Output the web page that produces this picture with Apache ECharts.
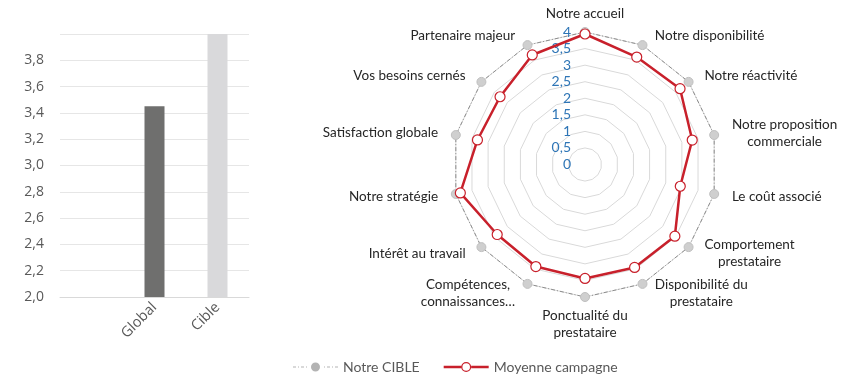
<!DOCTYPE html>
<html><head><meta charset="utf-8">
<script src="https://cdn.jsdelivr.net/npm/echarts@6/dist/echarts.min.js"></script>
<style>html,body{margin:0;padding:0;background:#fff}#c{width:842px;height:391px}</style>
</head><body><div id="c"></div>
<script>
// ---- data (clockwise from top) ----
const barCategories = ['', 'Global', 'Cible'];
const barValues = [null, 3.45, 4.0];
const barTickLabels = ['2,0','2,2','2,4','2,6','2,8','3,0','3,2','3,4','3,6','3,8','4,0'];

const radarCategories = [
  'Notre accueil', 'Notre disponibilité', 'Notre réactivité',
  'Notre proposition\ncommerciale', 'Le coût associé', 'Comportement\nprestataire',
  'Disponibilité du\nprestataire', 'Ponctualité du\nprestataire', 'Compétences,\nconnaissances…',
  'Intérêt au travail', 'Notre stratégie', 'Satisfaction globale',
  'Vos besoins cernés', 'Partenaire majeur'
];
const cibleValues = [4, 4, 4, 4, 4, 4, 4, 4, 4, 4, 4, 4, 4, 4];
const moyenneValues = [3.94, 3.6, 3.67, 3.32, 2.95, 3.47, 3.45, 3.44, 3.42, 3.39, 3.86, 3.33, 3.28, 3.67];
const radarTickLabels = ['0','0,5','1','1,5','2','2,5','3','3,5','4'];
const seriesNames = ['Notre CIBLE', 'Moyenne campagne'];

// ---- styles ----
const barColors = ['#6f6f6e', '#d9d9db'];
const RED = '#c8202b';
const FONT = 'Lato, "Open Sans", sans-serif';
const C = [585, 164.5], R = 132.5;

// ECharts radar runs counter-clockwise: reorder so it reads clockwise
const cw = arr => [arr[0]].concat(arr.slice(1).reverse());

const redIcon = 'path://M0 3.75H17.5V6.25H0Z M27.5 3.75H45V6.25H27.5Z M22.5 0A5 5 0 1 1 22.49 0Z M22.5 1.2A3.8 3.8 0 1 0 22.51 1.2Z';
const grayIcon = 'path://M0 4.5H3V5.5H0Z M5 4.5H6V5.5H5Z M8 4.5H11V5.5H8Z M13 4.5H14V5.5H13Z M22.5 0.5A4.5 4.5 0 1 1 22.49 0.5Z M31 4.5H32V5.5H31Z M34 4.5H37V5.5H34Z M39 4.5H40V5.5H39Z M42 4.5H45V5.5H42Z M0 0H0.01V10H0Z';

const chart = echarts.init(document.getElementById('c'));
chart.setOption({
  animation: false,
  textStyle: { fontFamily: FONT },
  grid: { left: 60, right: 593, top: 34, bottom: 94 },
  xAxis: {
    type: 'category', data: barCategories,
    axisLine: { lineStyle: { color: '#d9d9d9' } },
    axisTick: { show: false },
    axisLabel: { rotate: 45, color: '#595959', fontSize: 14.5, fontFamily: '"Open Sans", sans-serif', margin: 8, interval: 0 }
  },
  yAxis: {
    type: 'value', min: 2, max: 4, interval: 0.2,
    axisLabel: {
      color: '#595959', fontSize: 14, fontFamily: '"Open Sans", sans-serif', margin: 16, showMaxLabel: false,
      formatter: v => barTickLabels[Math.round((v - 2) / 0.2)]
    },
    splitLine: { lineStyle: { color: '#e6e6e6' } }
  },
  polar: { center: C, radius: R },
  angleAxis: { show: false, startAngle: 90, min: 0, max: 360 },
  radiusAxis: {
    type: 'value', min: 0, max: 4, interval: 0.5,
    axisLine: { show: false }, axisTick: { show: false }, splitLine: { show: false },
    axisLabel: { color: '#2e75b6', fontSize: 14, margin: 14, formatter: v => radarTickLabels[Math.round(v / 0.5)] }
  },
  radar: {
    center: C, radius: R, startAngle: 90, shape: 'polygon', splitNumber: 8,
    indicator: cw(radarCategories).map(n => ({ name: n, min: 0, max: 4 })),
    axisName: {
      color: '#262626', fontSize: 13.5, fontFamily: FONT,
      formatter: n => n.split('\n').map(s => '{c|' + s + '}').join('\n'),
      rich: { c: { align: 'center', color: '#262626', fontSize: 13.5, fontFamily: FONT, lineHeight: 17, padding: [0, 8, 0, 8] } }
    },
    nameGap: 10,
    axisLine: { show: false },
    splitLine: { lineStyle: { color: '#d9d9d9', width: 1 } },
    splitArea: { show: false }
  },
  legend: {
    bottom: 12, left: 288, itemWidth: 45, itemHeight: 10, itemGap: 24,
    textStyle: { color: '#595959', fontSize: 14, fontFamily: FONT },
    data: [
      { name: seriesNames[0], icon: grayIcon, itemStyle: { color: '#b3b3b3', borderWidth: 0 } },
      { name: seriesNames[1], icon: redIcon, itemStyle: { color: RED, borderWidth: 0 } }
    ]
  },
  series: [
    {
      type: 'bar', data: barValues.map((v, i) => ({ value: v, itemStyle: { color: barColors[(i + 1) % 2] } })),
      barWidth: 20
    },
    {
      type: 'radar', name: seriesNames[0],
      data: [{ value: cw(cibleValues), name: seriesNames[0] }],
      symbol: 'circle', symbolSize: 9,
      lineStyle: { color: '#8c8c8c', width: 1, type: [4, 2, 1, 2] },
      itemStyle: { color: '#cfcfcf', borderColor: '#bfbfbf', borderWidth: 1 },
      z: 3
    },
    {
      type: 'radar', name: seriesNames[1],
      data: [{ value: cw(moyenneValues), name: seriesNames[1] }],
      symbol: 'circle', symbolSize: 10,
      lineStyle: { color: RED, width: 2.5 },
      itemStyle: { color: '#ffffff', borderColor: RED, borderWidth: 1.2 },
      z: 4
    }
  ]
});
</script></body></html>
